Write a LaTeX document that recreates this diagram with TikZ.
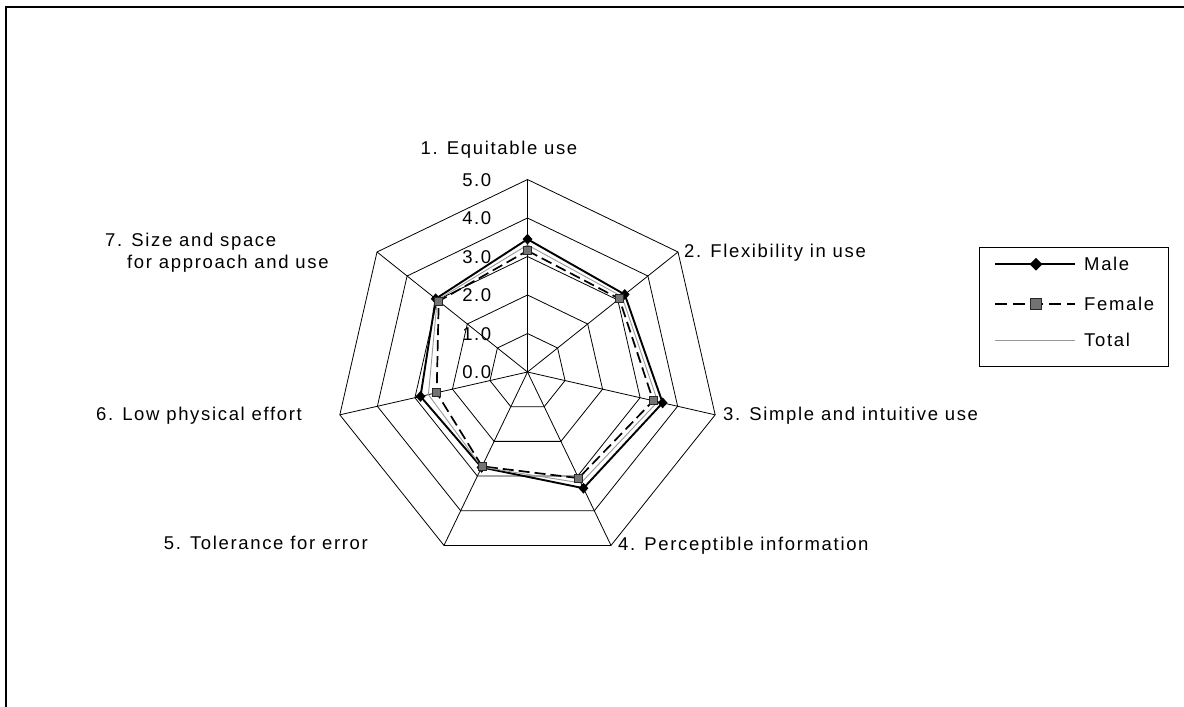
\documentclass[tikz,border=0pt]{standalone}
\usepackage{fontspec}
\setmainfont{Liberation Sans}[LetterSpace=9]
\usetikzlibrary{shapes.geometric}
\begin{document}
\begin{tikzpicture}[x=1pt,y=-1pt,
  grid/.style={black,line width=0.8pt},
  frameline/.style={black,line width=2pt},
  maleline/.style={black,line width=1.9pt,line join=round},
  femaleline/.style={black,line width=1.7pt,dash pattern=on 11pt off 5pt},
  totalline/.style={black!40,line width=0.9pt},
  lbl/.style={font=\fontsize{18.5}{22}\selectfont,inner sep=0pt},
  malemark/.style={diamond,fill=black,inner sep=0pt,minimum width=10pt,minimum height=11pt},
  femark/.style={rectangle,fill=black!55,draw=black!85,line width=0.6pt,inner sep=0pt,minimum size=8pt},
]
\useasboundingbox (0,0) rectangle (1184,707);
\fill[white] (0,0) rectangle (1184,707);
\draw[frameline] (1184,7) -- (6,7) -- (6,707);

\begin{scope}[shift={(527.5,372)}]
  % rings
  \foreach \r in {1,...,5}
    \draw[grid] (-90:{\r*38.5}) \foreach \k in {1,...,6} { -- ({-90+\k*360/7}:{\r*38.5}) } -- cycle;
  % spokes
  \foreach \k in {0,...,6}
    \draw[grid] (0,0) -- ({-90+\k*360/7}:192.5);
  % axis values
  \foreach \v [count=\i from 0] in {0.0,1.0,2.0,3.0,4.0,5.0}
    \node[lbl,anchor=base east] (ax\i) at (-36,{-\i*38.5+6.6}) {\v};
  % data coordinates
  \foreach \v [count=\k from 0] in {3.45,3.23,3.60,3.35,2.75,2.85,3.05}
    \coordinate (m\k) at ({-90+\k*360/7}:{\v*38.5});
  \foreach \v [count=\k from 0] in {3.15,3.05,3.35,3.06,2.72,2.42,2.95}
    \coordinate (f\k) at ({-90+\k*360/7}:{\v*38.5});
  \foreach \v [count=\k from 0] in {3.30,3.14,3.47,3.20,2.74,2.64,3.00}
    \coordinate (t\k) at ({-90+\k*360/7}:{\v*38.5});
  \draw[maleline] (m0)--(m1)--(m2)--(m3)--(m4)--(m5)--(m6)--cycle;
  \draw[femaleline] (f0)--(f1)--(f2)--(f3)--(f4)--(f5)--(f6)--cycle;
  \draw[totalline] (t0)--(t1)--(t2)--(t3)--(t4)--(t5)--(t6)--cycle;
  \foreach \k in {0,...,6} \node[malemark] (mm\k) at (m\k) {};
  \foreach \k in {0,...,6} \node[femark] (fm\k) at (f\k) {};
\end{scope}

% category labels
\node[lbl,anchor=base] (cat1) at (499,154) {1. Equitable use};
\node[lbl,anchor=base west] (cat2) at (684,257) {2. Flexibility in use};
\node[lbl,anchor=base west] (cat3) at (723,420) {3. Simple and intuitive use};
\node[lbl,anchor=base west] (cat4) at (618,550) {4. Perceptible information};
\node[lbl,anchor=base east] (cat5) at (368,549) {5. Tolerance for error};
\node[lbl,anchor=base east] (cat6) at (302,420) {6. Low physical effort};
\node[lbl,anchor=base west] (cat7a) at (105,246.7) {7. Size and space};
\node[lbl,anchor=base west] (cat7b) at (127,268.5) {for approach and use};

% legend
\node[draw=black,line width=0.9pt,minimum width=189pt,minimum height=119.4pt,inner sep=0pt] (legend) at (1073.8,307) {};
\coordinate (l1a) at (995,264.3); \coordinate (l1b) at (1075,264.3);
\coordinate (l2a) at (995,304);   \coordinate (l2b) at (1075,304);
\coordinate (l3a) at (995,340);   \coordinate (l3b) at (1075,340);
\draw[maleline] (l1a) -- (l1b);
\node[malemark,minimum width=13pt,minimum height=13pt] (lm1) at (1036,264.3) {};
\draw[femaleline,dash pattern=on 12pt off 6pt] (l2a) -- (l2b);
\node[femark,minimum size=11pt] (lm2) at (1036,304) {};
\draw[totalline] (l3a) -- (l3b);
\node[lbl,anchor=base west] (legm) at (1084,270.7) {Male};
\node[lbl,anchor=base west] (legf) at (1084,310.4) {Female};
\node[lbl,anchor=base west] (legt) at (1084,346.4) {Total};
\end{tikzpicture}
\end{document}
